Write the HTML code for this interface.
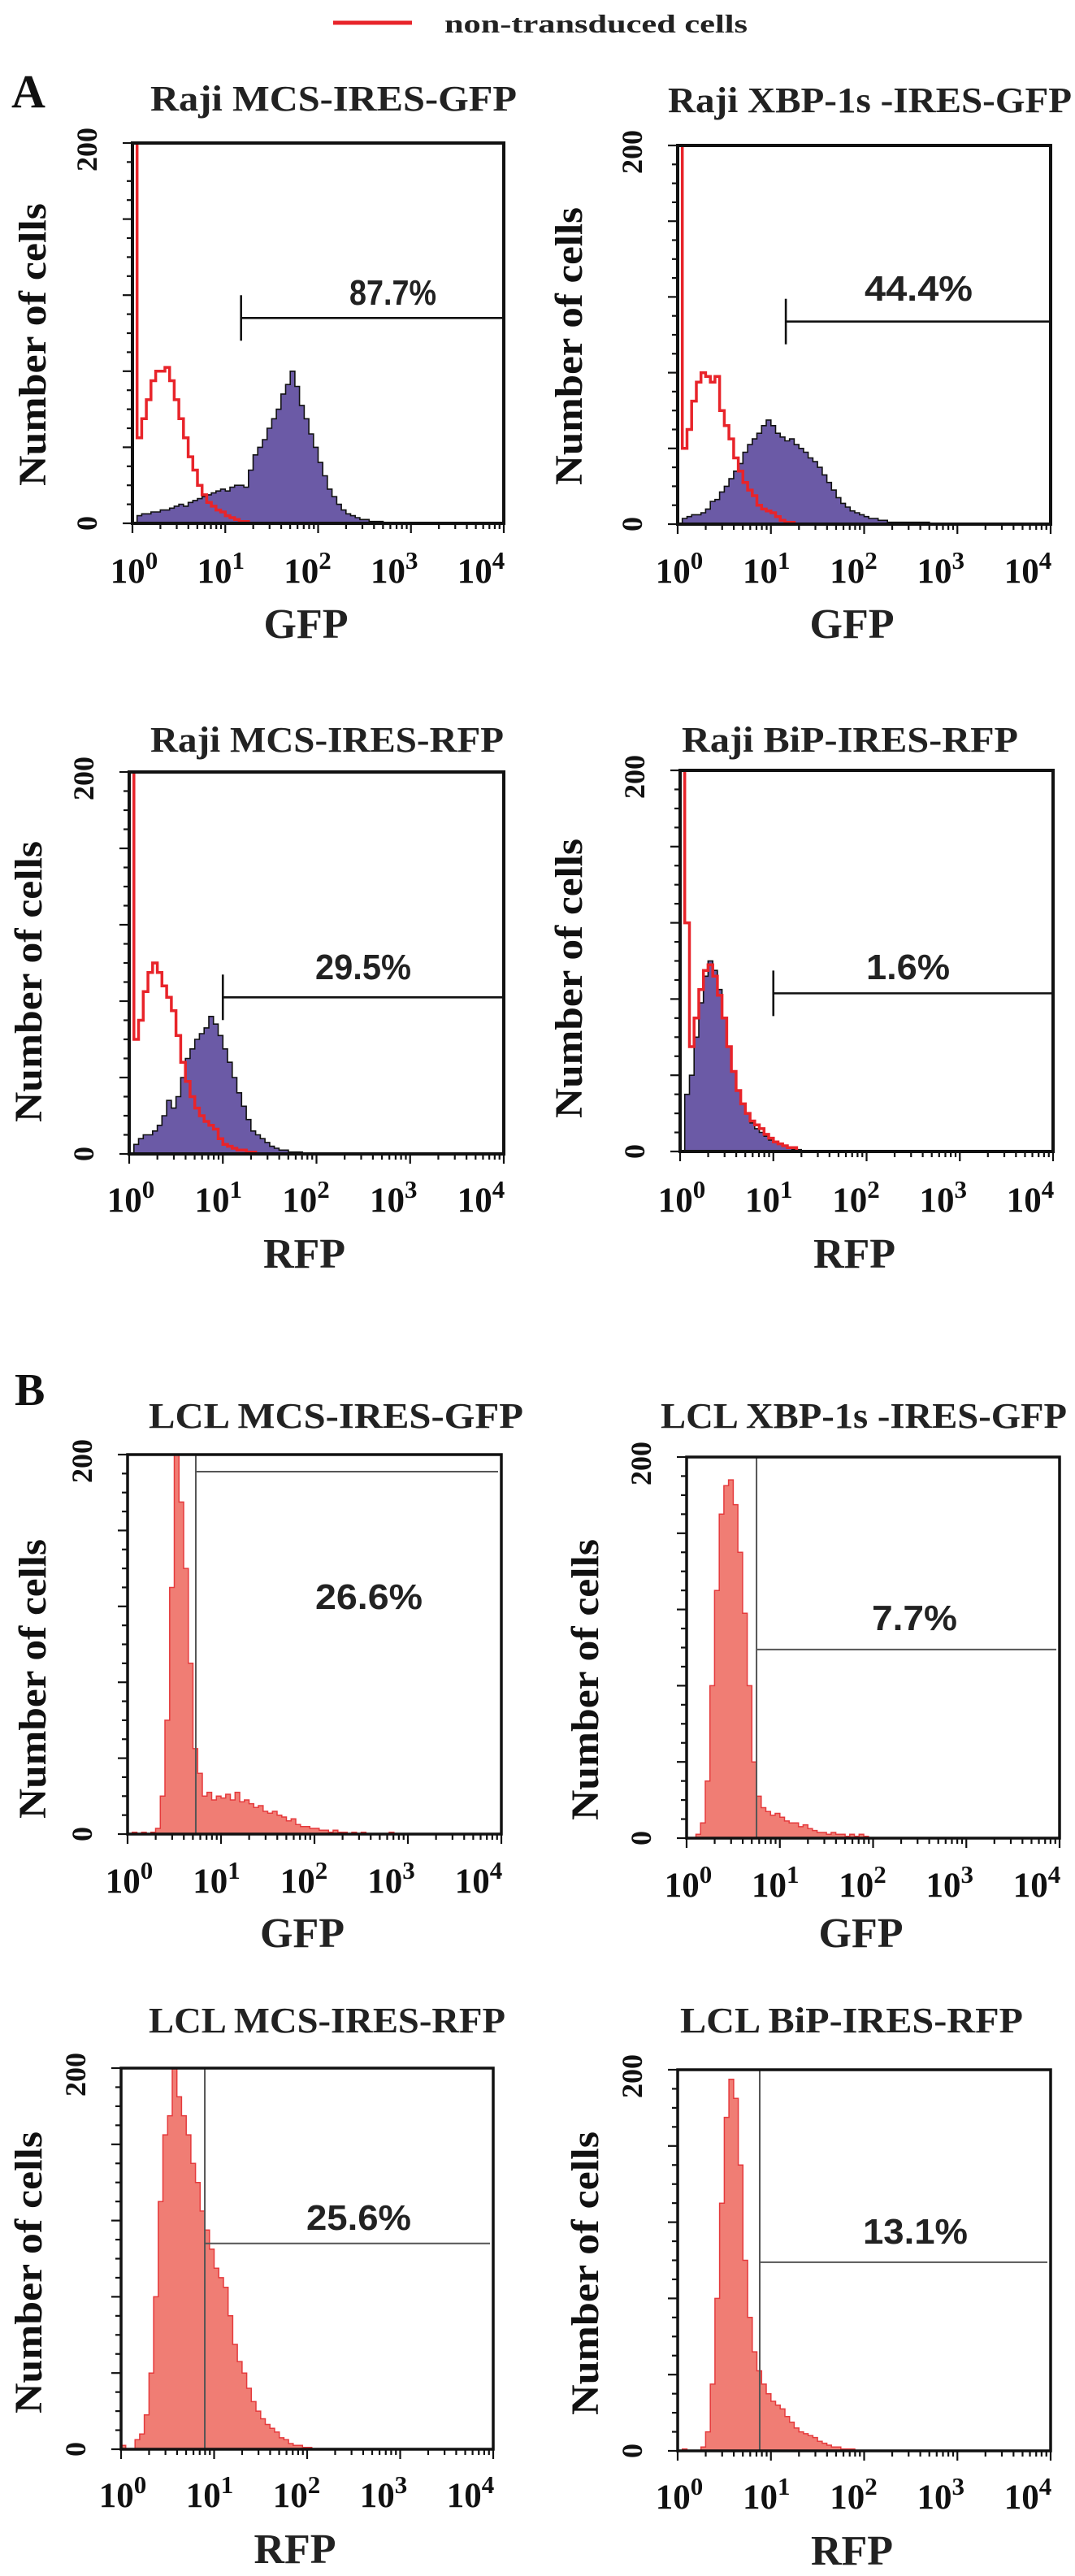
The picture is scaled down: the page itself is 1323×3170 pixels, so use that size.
<!DOCTYPE html>
<html><head><meta charset="utf-8"><title>Flow cytometry histograms</title>
<style>html,body{margin:0;padding:0;background:#fff}svg{display:block}</style></head>
<body>
<svg id="fig" xmlns="http://www.w3.org/2000/svg" width="1323" height="3170" viewBox="0 0 1323 3170">
<rect width="1323" height="3170" fill="#fff"/>
<g>
<line x1="410" y1="28" x2="507" y2="28" stroke="#e8242a" stroke-width="5"/>
<text x="547" y="40" font-family="Liberation Serif, serif" font-weight="bold" font-size="32" textLength="373" lengthAdjust="spacingAndGlyphs" fill="#222">non-transduced cells</text>
</g>
<text x="14" y="132" font-family="Liberation Serif, serif" font-weight="bold" font-size="58" fill="#111">A</text>
<text x="18" y="1729" font-family="Liberation Serif, serif" font-weight="bold" font-size="56" fill="#111">B</text>
</svg>
<script>
// bin width 0.05 decades, starting at 10^0
const binWidth = 0.05;
const yMax = 200;
const decadeLabels = ["0","1","2","3","4"];
const a1Red = [200,45,55,65,75,80,80,82,75,65,55,45,35,28,20,15,11,9,7,6,4,3,2,1,1];
const a1Blue = [0,4,5,5,6,6,7,7,8,9,10,9,11,12,13,14,15,16,17,18,17,19,20,20,19,28,36,40,44,50,55,60,68,73,80,72,62,55,47,40,32,25,18,14,10,7,5,4,3,2,2,1,1,1];
const a2Red = [200,40,50,65,75,80,78,75,78,60,52,45,35,28,22,18,15,10,8,7,6,4,2,1,1];
const a2Blue = [0,3,4,5,5,6,8,12,13,17,20,24,28,32,38,42,45,48,52,55,52,48,46,44,45,42,40,38,35,33,30,26,22,18,14,11,9,7,6,5,4,3,3,2,2,1,1,1,1,1,1,1,1,1];
const a3Red = [200,60,70,85,95,100,95,88,82,75,62,48,38,30,24,20,17,15,13,8,5,4,3,2,2,1,1];
const a3Blue = [0,5,8,10,10,12,15,20,28,24,30,40,50,55,60,63,66,72,68,62,55,48,40,32,25,18,12,10,8,6,4,3,2,2,1,1,1];
const a4Red = [200,120,55,70,85,95,98,92,82,70,55,42,32,25,20,16,14,12,9,7,5,4,3,2,2];
const a4Blue = [0,30,40,60,78,92,100,95,85,70,55,42,32,25,20,15,12,10,8,6,5,4,3,2,1,1];
const b1Counts = [0,1,0,1,0,1,3,20,60,130,210,175,140,90,45,32,20,22,18,20,19,21,18,22,17,18,16,14,15,12,11,12,10,9,7,8,5,4,4,3,3,2,2,1,2,1,1,0,1,0,1,0,0,0,0,0,1];
const b2Counts = [0,0,2,8,30,80,130,170,185,188,175,150,118,80,40,22,16,14,12,13,11,9,8,8,6,7,5,4,3,3,2,3,2,2,1,2,1,2,1];
const b3Counts = [2,0,0,5,8,18,40,80,130,165,175,200,185,175,165,150,140,125,115,105,95,90,85,70,55,46,40,32,25,20,16,13,11,9,6,5,3,2,2,1,1];
const b4Counts = [0,1,0,0,0,2,10,35,80,130,175,195,185,150,100,70,52,42,35,30,26,24,22,18,15,12,10,9,8,7,5,4,3,2,2,1,1,1];
const gateLog = [1.17, 1.16, 1.0, 1.0, 0.73, 0.75, 0.9, 0.88];
const gateCount = [108, 107, 82, 83, 191, 99, 108, 99];
const percentLabels = ["87.7%","44.4%","29.5%","1.6%","26.6%","7.7%","25.6%","13.1%"];
const titles = ["Raji MCS-IRES-GFP","Raji XBP-1s -IRES-GFP","Raji MCS-IRES-RFP","Raji BiP-IRES-RFP","LCL MCS-IRES-GFP","LCL XBP-1s -IRES-GFP","LCL MCS-IRES-RFP","LCL BiP-IRES-RFP"];
const axisTitles = ["GFP","GFP","RFP","RFP","GFP","GFP","RFP","RFP"];

const panels = [
 {id:"a1",L:163,T:176,R:620,B:644,kind:"A",red:a1Red,blue:a1Blue,tx:[185,451],ty:136,pc:[430,107,375],ly:[18,56,250,598],tl:717,at:785},
 {id:"a2",L:834,T:179,R:1293,B:645,kind:"A",red:a2Red,blue:a2Blue,tx:[822,497],ty:138,pc:[1064,133,370],ly:[682,716,255,597],tl:717,at:785},
 {id:"a3",L:159,T:950,R:620,B:1420,kind:"A",red:a3Red,blue:a3Blue,tx:[185,435],ty:925,pc:[388,118,1205],ly:[18,51,1035,1381],tl:1491,at:1560},
 {id:"a4",L:837,T:948,R:1296,B:1417,kind:"A",red:a4Red,blue:a4Blue,tx:[839,414],ty:925,pc:[1066,103,1205],ly:[680,716,1032,1376],tl:1491,at:1560},
 {id:"b1",L:157,T:1790,R:617,B:2257,kind:"B",fill:b1Counts,tx:[183,461],ty:1757,pc:[388,132,1980],ly:[18,56,1894,2238],tl:2329,at:2396},
 {id:"b2",L:845,T:1793,R:1304,B:2262,kind:"B",fill:b2Counts,tx:[813,500],ty:1757,pc:[1073,105,2006],ly:[699,736,1894,2240],tl:2334,at:2396},
 {id:"b3",L:149,T:2545,R:607,B:3014,kind:"B",fill:b3Counts,tx:[183,439],ty:2501,pc:[377,129,2744],ly:[16,51,2623,2970],tl:3085,at:3154},
 {id:"b4",L:834,T:2547,R:1293,B:3016,kind:"B",fill:b4Counts,tx:[837,422],ty:2501,pc:[1062,129,2761],ly:[697,736,2623,2972],tl:3087,at:3156}
];

const NS = "http://www.w3.org/2000/svg";
const svg = document.getElementById("fig");
function mk(tag, attrs, parent){
  const e = document.createElementNS(NS, tag);
  for (const k in attrs) e.setAttribute(k, attrs[k]);
  (parent||svg).appendChild(e);
  return e;
}
function histPath(vals, xs, ys, closed){
  let d = "";
  const y0 = ys(0);
  d += "M" + xs(0) + "," + y0;
  for (let i=0;i<vals.length;i++){
    const xa = xs(i*binWidth), xb = xs((i+1)*binWidth), y = ys(vals[i]);
    d += " L" + xa.toFixed(1) + "," + y.toFixed(1) + " L" + xb.toFixed(1) + "," + y.toFixed(1);
  }
  const xe = xs(vals.length*binWidth);
  d += " L" + xe.toFixed(1) + "," + y0;
  if (closed) d += " Z"; else d += " L" + xs(4) + "," + y0;
  return d;
}

panels.forEach((p, idx) => {
  const xs = v => p.L + (p.R - p.L) * v / 4;
  const ys = c => p.B - (p.B - p.T) * Math.min(c, yMax*1.02) / yMax;
  const g = mk("g", {});
  
  
  const cid = "clip-" + p.id;
  const cp = mk("clipPath", {id:cid}, g);
  mk("rect", {x:p.L, y:p.T, width:p.R-p.L, height:p.B-p.T}, cp);
  const plot = mk("g", {"clip-path":"url(#"+cid+")"}, g);

  if (p.kind === "A"){
    const bl = mk("path", {d:histPath(p.blue, xs, ys, true), fill:"#6b5aa6", stroke:"#111", "stroke-width":"1.6"}, plot);
    
    
    const rd = mk("path", {d:histPath(p.red, xs, ys, false), fill:"none", stroke:"#e8242a", "stroke-width":"3.5"}, plot);
    
    
  } else {
    const fh = mk("path", {d:histPath(p.fill, xs, ys, true), fill:"#f07d74", stroke:"#e53a3c", "stroke-width":"1.5"}, plot);
    
    
  }

  const gx = xs(gateLog[idx]), gy = ys(gateCount[idx]);
  const gate = mk("g", {stroke: p.kind==="A" ? "#111" : "#555", "stroke-width": p.kind==="A" ? "2.6" : "2", fill:"none"}, g);
  
  
  if (p.kind === "A"){
    mk("line", {x1:gx, y1:gy-28, x2:gx, y2:gy+28}, gate);
    mk("line", {x1:gx, y1:gy, x2:p.R, y2:gy}, gate);
  } else {
    mk("line", {x1:gx, y1:p.T, x2:gx, y2:p.B}, gate);
    mk("line", {x1:gx, y1:gy, x2:p.R-4, y2:gy}, gate);
  }

  const fr = mk("rect", {x:p.L, y:p.T, width:p.R-p.L, height:p.B-p.T, fill:"none", stroke:"#111", "stroke-width": p.kind==="A" ? "4" : "3.5"}, g);
  
  

  const yt = mk("g", {stroke:"#111", "stroke-width":"2.2"}, g);
  
  
  for (let v=0; v<=yMax; v+=10){
    const len = (v % 40 === 0) ? 12 : 7;
    mk("line", {x1:p.L-len, y1:ys(v), x2:p.L, y2:ys(v)}, yt);
  }
  const xt = mk("g", {stroke:"#111", "stroke-width":"2.2"}, g);
  
  
  for (let d=0; d<4; d++){
    for (let k=2;k<=9;k++){
      const x = xs(d + Math.log10(k));
      mk("line", {x1:x, y1:p.B, x2:x, y2:p.B+7}, xt);
    }
  }
  for (let d=0; d<=4; d++) mk("line", {x1:xs(d), y1:p.B, x2:xs(d), y2:p.B+12}, xt);

  const yl0 = mk("text", {x:0, y:0, transform:"translate("+(p.L-44)+","+(p.B)+") rotate(-90)", "text-anchor":"middle", "font-family":"Liberation Serif, serif", "font-weight":"bold", "font-size":"36", fill:"#111"}, g);
  yl0.textContent = "0";
  
  
  const yl2 = mk("text", {x:0, y:0, transform:"translate("+(p.L-44)+","+(p.T+8)+") rotate(-90)", "text-anchor":"middle", "font-family":"Liberation Serif, serif", "font-weight":"bold", "font-size":"36", fill:"#111"}, g);
  yl2.textContent = "200";
  
  

  decadeLabels.forEach((lab, d) => {
    const t = mk("text", {x:xs(d) + 2 - 7.5*d, y:p.tl, "text-anchor":"middle", "font-family":"Liberation Serif, serif", "font-weight":"bold", "font-size":"43", fill:"#111"}, g);
    
    
    const t1 = mk("tspan", {}, t); t1.textContent = "10";
    const t2 = mk("tspan", {dy:"-17", "font-size":"31"}, t); t2.textContent = lab;
  });

  const ti = mk("text", {x:p.tx[0], y:p.ty, textLength:p.tx[1], lengthAdjust:"spacingAndGlyphs", "font-family":"Liberation Serif, serif", "font-weight":"bold", "font-size":"44", fill:"#222"}, g);
  ti.textContent = titles[idx];
  
  

  const ycx = p.ly[1], ycy = (p.ly[2]+p.ly[3])/2;
  const ya = mk("text", {x:0, y:0, transform:"translate("+ycx+","+ycy+") rotate(-90)", "text-anchor":"middle", textLength:(p.ly[3]-p.ly[2]), lengthAdjust:"spacingAndGlyphs", "font-family":"Liberation Serif, serif", "font-weight":"bold", "font-size":"48", fill:"#111"}, g);
  ya.textContent = "Number of cells";
  
  

  const xa = mk("text", {x:(p.L+p.R)/2-15, y:p.at, "text-anchor":"middle", "font-family":"Liberation Serif, serif", "font-weight":"bold", "font-size":"52", fill:"#222"}, g);
  xa.textContent = axisTitles[idx];
  
  

  const pc = mk("text", {x:p.pc[0], y:p.pc[2], textLength:p.pc[1], lengthAdjust:"spacingAndGlyphs", "font-family":"Liberation Sans, sans-serif", "font-weight":"bold", "font-size":"44", fill:"#222"}, g);
  pc.textContent = percentLabels[idx];
  
  
});
</script>
</body></html>
